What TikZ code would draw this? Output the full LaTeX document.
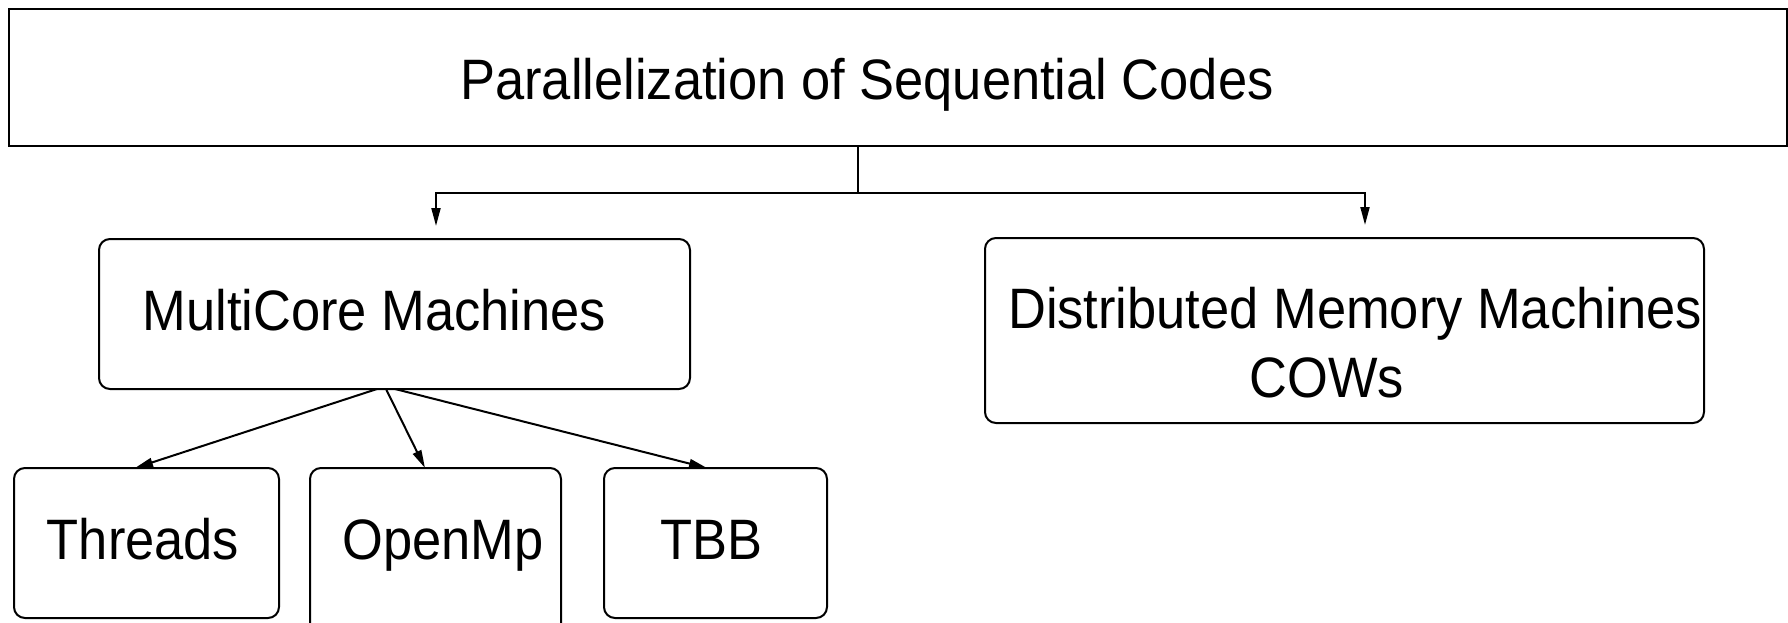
\documentclass[tikz,border=0pt]{standalone}
\usepackage{fontspec}
\setmainfont[FakeStretch=0.92]{Liberation Sans}
\usetikzlibrary{arrows.meta}
\tikzset{
  box/.style={draw=black, line width=2pt, inner sep=0pt, outer sep=0pt},
  rbox/.style={box, rounded corners=11pt},
  txt/.style={inner sep=0pt, anchor=base, font=\fontsize{57}{69}\selectfont},
  conn/.style={draw=black, line width=2pt},
  arr/.style={conn, -{Triangle[length=18pt,width=9pt]}},
}
\begin{document}
\begin{tikzpicture}[x=1pt,y=-1pt]
\useasboundingbox (0,0) rectangle (1788,623);
\clip (0,0) rectangle (1788,623);
\fill[white] (0,0) rectangle (1788,623);
% boxes
\node[box, minimum width=1778pt, minimum height=137pt] (top) at (898,77.5) {};
\node[rbox, minimum width=591pt, minimum height=150pt] (mc) at (394.5,314) {};
\node[rbox, minimum width=719pt, minimum height=185pt] (dm) at (1344.5,330.5) {};
\node[rbox, minimum width=265pt, minimum height=150pt] (th) at (146.5,543) {};
\node[rbox, minimum width=251pt, minimum height=190pt] (om) at (435.5,563) {};
\node[rbox, minimum width=223pt, minimum height=150pt] (tbb) at (715.5,543) {};
% texts
\node[txt] (ttop) at (867,100) {Parallelization of Sequential Codes};
\node[txt] (tmc) at (374.5,330) {MultiCore Machines};
\node[txt] (tdm1) at (1355,328) {Distributed Memory Machines};
\node[txt] (tdm2) at (1327,397) {COWs};
\node[txt] (tth) at (143,559) {Threads};
\node[txt] (tom) at (443,559) {OpenMp};
\node[txt] (ttbb) at (711.5,559) {TBB};
% connectors
\coordinate (j) at (858,193);
\draw[conn] (top.south -| j) -- (j);
\draw[arr, shorten >=13pt] (j) -| ([xshift=41.5pt]mc.north);
\draw[arr, shorten >=13pt] (j) -| ([xshift=20.5pt]dm.north);
\draw[arr] ([xshift=-17.5pt]mc.south) -- ([xshift=-11.5pt]th.north);
\draw[arr] ([xshift=-8.5pt]mc.south) -- ([xshift=-10.5pt]om.north);
\draw[arr] ([xshift=0.5pt]mc.south) -- ([xshift=-8.5pt]tbb.north);
\end{tikzpicture}
\end{document}
